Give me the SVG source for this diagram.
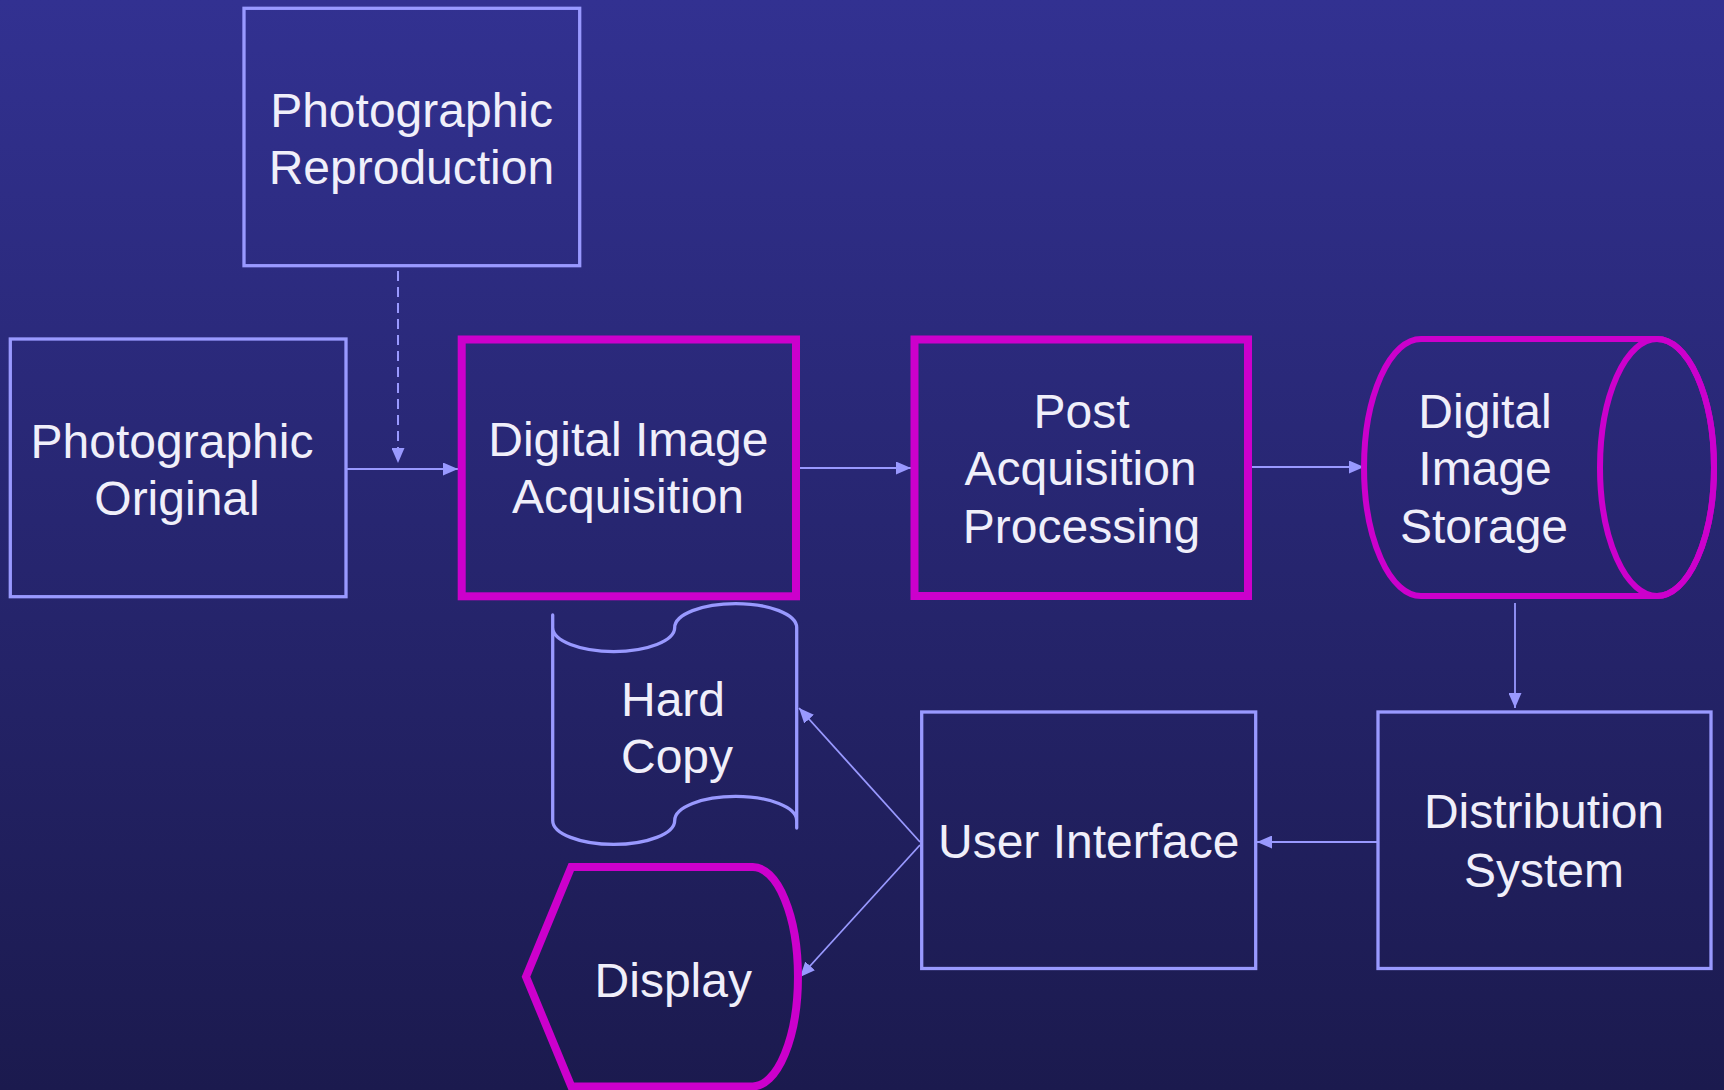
<svg xmlns="http://www.w3.org/2000/svg" width="1724" height="1090" viewBox="0 0 1724 1090">
  <defs>
    <linearGradient id="bg" x1="0" y1="0" x2="0" y2="1">
      <stop offset="0" stop-color="#323191"/>
      <stop offset="1" stop-color="#1b1a4e"/>
    </linearGradient>
    <marker id="arrow" viewBox="0 0 15 13" markerWidth="15" markerHeight="13" refX="15" refY="6.5" orient="auto" markerUnits="userSpaceOnUse">
      <path d="M0,0 L15,6.5 L0,13 Z" fill="#9999ff"/>
    </marker>
  </defs>
  <style>
    .lite { fill: none; stroke: #9999ff; stroke-width: 3.3; }
    .hot { fill: none; stroke: #cc00cc; stroke-width: 8; }
    .hot-thin { fill: none; stroke: #cc00cc; stroke-width: 6; }
    .conn { fill: none; stroke: #9999ff; stroke-width: 1.8; marker-end: url(#arrow); }
    .dash { stroke-dasharray: 10 6; stroke-width: 2; }
    text { font-family: "Liberation Sans", Arial, sans-serif; font-size: 48px; fill: #f0effa; text-anchor: middle; }
  </style>

  <rect x="0" y="0" width="1724" height="1090" fill="url(#bg)"/>

  <!-- connectors -->
  <g id="connectors">
    <path class="conn dash" d="M398,271 L398,463"/>
    <path class="conn" d="M346,469 L458,469"/>
    <path class="conn" d="M800,468 L911,468"/>
    <path class="conn" d="M1252,467 L1364,467"/>
    <path class="conn" d="M1515,603 L1515,708"/>
    <path class="conn" d="M1378,842 L1257,842"/>
    <path class="conn" d="M920,842 L799,708"/>
    <path class="conn" d="M920,845 L800,977"/>
  </g>

  <g id="photographic-reproduction">
    <rect class="lite" x="244" y="8.3" width="335.7" height="257.4"/>
    <text x="411.6" y="126.5">Photographic</text>
    <text x="411.4" y="184">Reproduction</text>
  </g>

  <g id="photographic-original">
    <rect class="lite" x="10.3" y="339" width="335.7" height="257.7"/>
    <text x="172" y="458">Photographic</text>
    <text x="177" y="515">Original</text>
  </g>

  <g id="digital-image-acquisition">
    <rect class="hot" x="461.7" y="339.5" width="334.3" height="256.8"/>
    <text x="628.3" y="456">Digital Image</text>
    <text x="628" y="513.3">Acquisition</text>
  </g>

  <g id="post-acquisition-processing">
    <rect class="hot" x="914.5" y="339.5" width="333.5" height="256.5"/>
    <text x="1081.5" y="428.3">Post</text>
    <text x="1080.5" y="485">Acquisition</text>
    <text x="1081.5" y="542.7">Processing</text>
  </g>

  <g id="digital-image-storage">
    <path class="hot-thin" d="M1421,339 H1657 A57,128.5 0 0 1 1657,596 H1421 A57,128.5 0 0 1 1421,339 Z"/>
    <ellipse class="hot-thin" cx="1657" cy="467.5" rx="57" ry="128.5"/>
    <text x="1485" y="428">Digital</text>
    <text x="1485" y="485">Image</text>
    <text x="1484" y="542.7">Storage</text>
  </g>

  <g id="distribution-system">
    <rect class="lite" x="1378" y="712" width="333" height="256.5"/>
    <text x="1544" y="828">Distribution</text>
    <text x="1544" y="886.7">System</text>
  </g>

  <g id="user-interface">
    <rect class="lite" x="921.7" y="712" width="334" height="256.5"/>
    <text x="1088.7" y="857.7">User Interface</text>
  </g>

  <g id="hard-copy">
    <path class="lite" stroke-linejoin="round" d="M552.7,615 V627.6 A61,24 0 0 0 674.7,627.6 A61,24 0 0 1 796.7,627.6 V828 V820.4 A61,24 0 0 0 674.7,820.4 A61,24 0 0 1 552.7,820.4 Z"/>
    <text x="673" y="715.7">Hard</text>
    <text x="677" y="773.3">Copy</text>
  </g>

  <g id="display">
    <path class="hot" stroke-width="7" d="M526,976.7 L571.3,867 L752.7,867 A45.3,109.7 0 0 1 752.7,1086.4 L571.3,1086.4 Z"/>
    <text x="673.3" y="997.3">Display</text>
  </g>
</svg>
